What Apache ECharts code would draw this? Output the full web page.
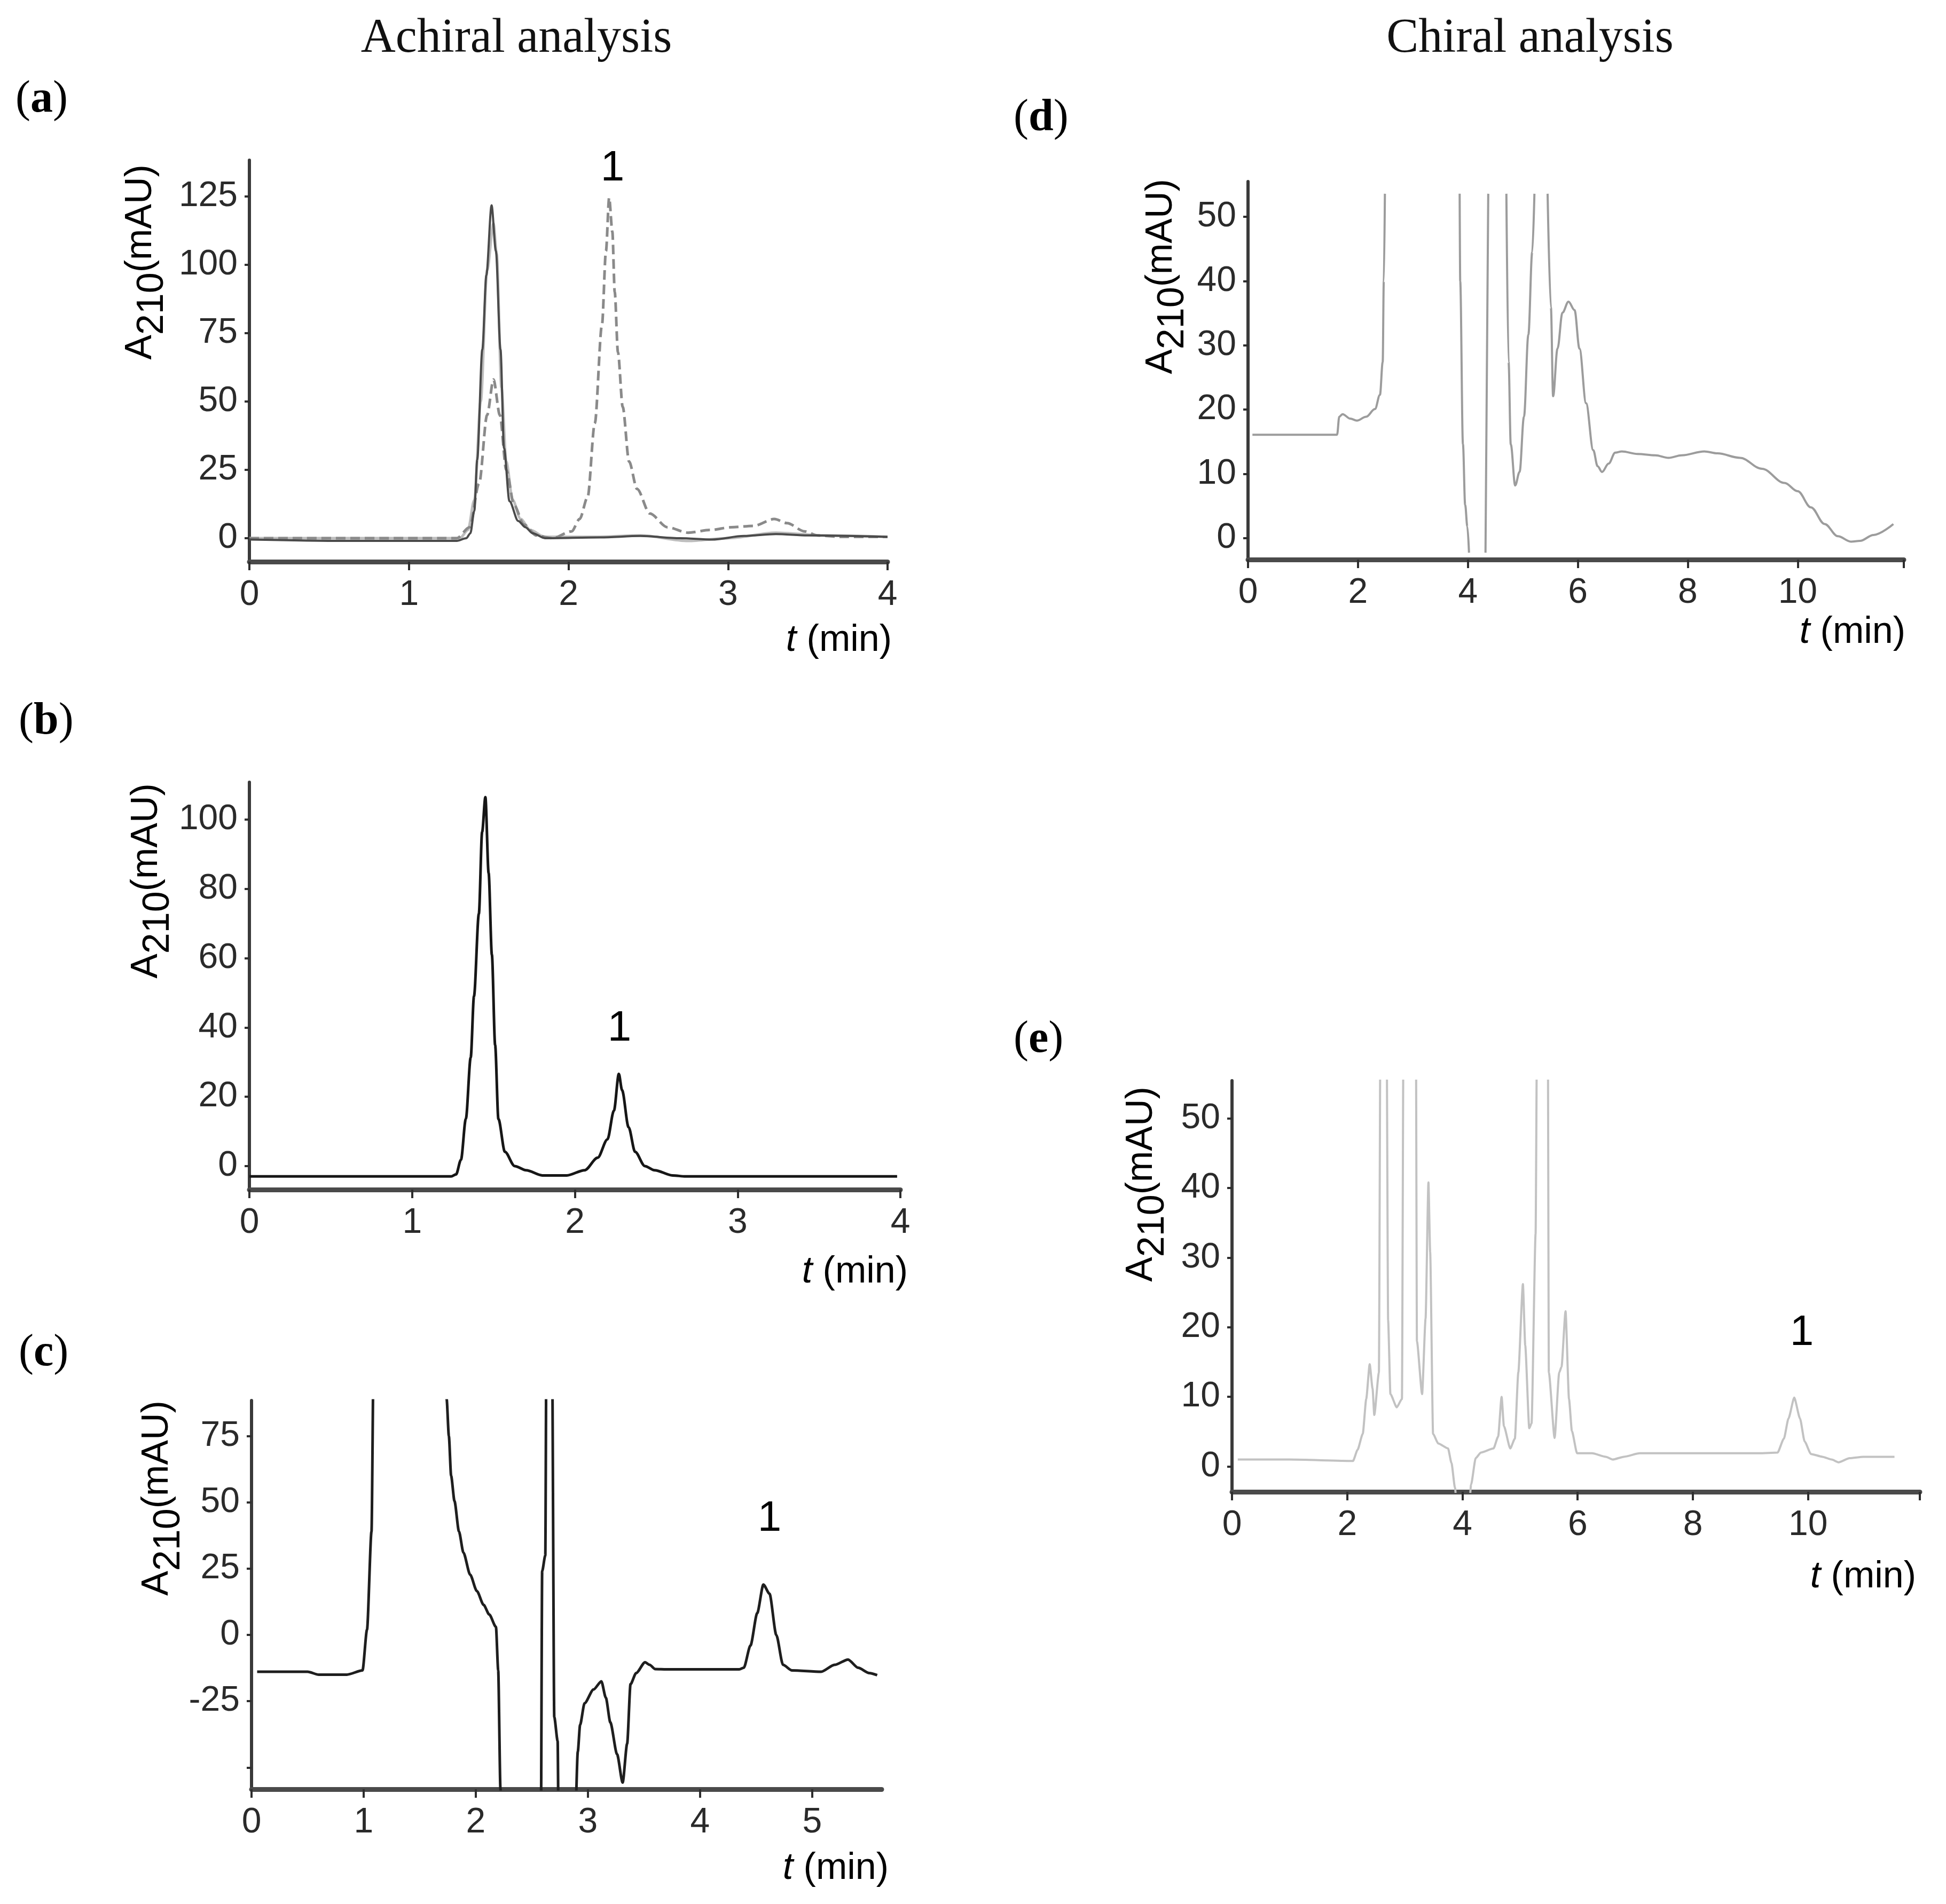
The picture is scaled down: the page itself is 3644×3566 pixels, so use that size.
<!DOCTYPE html>
<html>
<head>
<meta charset="utf-8">
<script src="https://cdn.jsdelivr.net/npm/echarts@6/dist/echarts.min.js"></script>
<style>
html,body{margin:0;padding:0;background:#fff;}
#c{width:3644px;height:3566px;}
</style>
</head>
<body>
<div id="c"></div>
<script>
// ---------- DATA ----------
// Panel (a): achiral, three overlaid traces
const aLightT = [0, 1.0, 1.32, 1.37, 1.41, 1.45, 1.49, 1.53, 1.55, 1.58, 1.61, 1.65, 1.70, 1.76, 1.85, 2.2, 2.45, 2.75, 3.0, 3.3, 3.6, 4.0];
const aLightY = [0, 0, 0, 3, 14, 50, 98, 115, 104, 55, 28, 14, 7, 3, 0.5, 0.5, 1, -1, 0, 2, 1, 0.5];
const aDashT = [0, 1.30, 1.38, 1.44, 1.49, 1.53, 1.57, 1.61, 1.66, 1.72, 1.80, 1.90, 2.02, 2.07, 2.12, 2.165, 2.21, 2.235, 2.255, 2.275, 2.29, 2.31, 2.34, 2.38, 2.43, 2.51, 2.62, 2.75, 2.89, 3.02, 3.16, 3.29, 3.37, 3.48, 3.56, 3.7, 4.0];
const aDashY = [0, 0, 4, 20, 45, 58, 45, 25, 12, 5, 1, 0, 2.5, 7, 15, 42, 78, 105, 124.5, 112, 90, 68, 48, 28, 18, 9, 4, 2, 3, 4, 4.5, 7, 5.5, 2.5, 1, 0.5, 0.5];
const aSolidT = [0, 0.6, 1.0, 1.30, 1.36, 1.385, 1.41, 1.428, 1.46, 1.485, 1.518, 1.545, 1.574, 1.596, 1.63, 1.685, 1.73, 1.775, 1.853, 2.2, 2.45, 2.7, 2.9, 3.1, 3.3, 3.5, 4.0];
const aSolidY = [-0.5, -1, -1, -1, 0, 1.8, 10, 28.7, 69, 96, 121.7, 105, 69, 33, 13.5, 6.3, 4, 1.8, 0, 0.3, 0.8, 0, -0.5, 0.8, 1.5, 1, 0.5];

// Panel (b)
const bT = [0, 1.24, 1.27, 1.30, 1.33, 1.36, 1.38, 1.41, 1.43, 1.45, 1.47, 1.49, 1.51, 1.53, 1.57, 1.63, 1.70, 1.80, 1.95, 2.06, 2.14, 2.20, 2.24, 2.27, 2.29, 2.33, 2.37, 2.43, 2.49, 2.60, 2.68, 3.98];
const bY = [-3.0, -3.0, -2.4, 1.8, 13.6, 31.4, 49, 72.8, 96.4, 106.5, 84.6, 61, 34.9, 13.6, 4.1, 0, -1.2, -2.7, -2.7, -1.2, 2.4, 7.7, 16, 26.6, 21.9, 11.2, 4.1, 0, -1.2, -2.7, -3.0, -3.0];

// Panel (c)
const cT = [0.05, 0.50, 0.60, 0.85, 0.99, 1.03, 1.07, 1.09, 1.72, 1.74, 1.76, 1.78, 1.81, 1.85, 1.89, 1.95, 2.01, 2.07, 2.12, 2.18, 2.20, 2.22, 2.23, 2.58, 2.592, 2.62, 2.63, 2.68, 2.70, 2.73, 2.74, 2.88, 2.91, 2.93, 2.97, 3.05, 3.12, 3.16, 3.20, 3.26, 3.31, 3.35, 3.38, 3.43, 3.51, 3.55, 3.60, 3.70, 4.35, 4.39, 4.45, 4.51, 4.565, 4.62, 4.68, 4.74, 4.82, 5.08, 5.20, 5.32, 5.41, 5.51, 5.58];
const cY = [-13.9, -13.9, -15, -15, -13.4, 2, 39, 110, 110, 89, 75, 60, 50.5, 39, 31, 22.7, 16.5, 11.3, 7.7, 3, -13.4, -58, -80, -80, 24, 30, 110, 110, -31, -40, -80, -80, -44, -34, -25.8, -20.6, -17.5, -23.7, -33, -45, -55.7, -41, -18.6, -14.4, -10.3, -11.3, -12.9, -13, -13, -12.4, -4, 8.2, 19, 15.5, 0, -11.3, -13.4, -13.9, -11.3, -9.3, -12.4, -14.4, -15.2];

// Panel (d)  (null = trace leaves the drawn window)
const dT = [0.08, 1.62, 1.66, 1.72, 1.86, 1.98, 2.15, 2.31, 2.40, 2.45, 2.47, 2.49, 2.50, 3.85, 3.86, 3.91, 3.95, 3.99, 4.02, 4.10, 4.32, 4.37, 4.50, 4.70, 4.74, 4.78, 4.86, 4.94, 5.02, 5.10, 5.17, 5.21, 5.30, 5.45, 5.51, 5.55, 5.63, 5.72, 5.83, 5.94, 6.03, 6.15, 6.28, 6.36, 6.44, 6.56, 6.68, 6.80, 7.09, 7.41, 7.65, 7.89, 8.30, 8.54, 8.95, 9.35, 9.76, 10.0, 10.24, 10.49, 10.73, 10.97, 11.13, 11.38, 11.74];
const dY = [16.1, 16.1, 18.9, 19.3, 18.6, 18.3, 18.9, 20.1, 22.3, 27.4, 40, 53.6, null, 53.6, 40, 14.6, 5.2, 1.8, -2.26, null, -2.26, 53.6, null, 53.6, 27.4, 14.6, 8.2, 10.3, 18.9, 31.7, 44.5, 53.6, null, 53.6, 35.9, 22.1, 29.5, 35.1, 36.8, 35.5, 29.5, 21, 13.7, 11.2, 10.3, 11.6, 13.3, 13.5, 13.1, 12.9, 12.5, 12.9, 13.5, 13.2, 12.5, 10.8, 8.6, 7.3, 4.8, 2.2, 0.3, -0.55, -0.43, 0.5, 2.2];

// Panel (e)
const eT = [0.1, 1.0, 2.10, 2.18, 2.27, 2.33, 2.39, 2.44, 2.47, 2.55, 2.58, 2.68, 2.71, 2.75, 2.86, 2.95, 2.98, 3.19, 3.21, 3.30, 3.36, 3.41, 3.44, 3.49, 3.58, 3.75, 3.81, 3.87, 3.92, 4.10, 4.15, 4.23, 4.32, 4.54, 4.62, 4.68, 4.72, 4.83, 4.91, 4.97, 5.05, 5.09, 5.16, 5.20, 5.27, 5.30, 5.48, 5.50, 5.60, 5.68, 5.72, 5.79, 5.85, 5.90, 5.99, 6.25, 6.49, 6.61, 6.80, 7.08, 8.37, 9.15, 9.47, 9.58, 9.66, 9.76, 9.86, 9.94, 10.05, 10.25, 10.41, 10.53, 10.72, 10.96, 11.5];
const eY = [1.0, 1.0, 0.8, 2.4, 4.7, 9.7, 14.7, 11.2, 7.4, 13.5, 70, 70, 21, 10.4, 8.5, 9.7, 70, 70, 18, 10.4, 21.2, 40.8, 30.8, 4.7, 3.3, 2.6, 0.5, -3.0, -8, -8, -2.6, 1.2, 2.0, 2.6, 4.3, 10, 5.8, 2.6, 4.0, 13.5, 26.2, 17.4, 5.5, 6.2, 33.4, 70, 70, 13.5, 4.1, 13.5, 14.3, 22.3, 9.7, 5.1, 1.9, 1.9, 1.4, 1.0, 1.4, 1.9, 1.9, 1.9, 2.0, 4.0, 6.9, 9.9, 6.9, 3.6, 1.8, 1.4, 1.0, 0.6, 1.2, 1.4, 1.4];

// Tick values
const abXTicks = [0, 1, 2, 3, 4];
const aYTicks = [0, 25, 50, 75, 100, 125];
const bYTicks = [0, 20, 40, 60, 80, 100];
const cXTicks = [0, 1, 2, 3, 4, 5];
const cYTicks = [-50, -25, 0, 25, 50, 75];
const cYLabels = [-25, 0, 25, 50, 75];
const deXLabels = [0, 2, 4, 6, 8, 10];
const deYTicks = [0, 10, 20, 30, 40, 50];

// ---------- HELPERS ----------
function zip(t, y) { return t.map((v, i) => [v, y[i] === null ? null : y[i]]); }
const LBL_FONT = 'Liberation Sans';
const grids = [
  { left: 467, top: 300, width: 1195, height: 752 },   // a
  { left: 467, top: 1465, width: 1219, height: 763 },  // b
  { left: 471, top: 2623, width: 1180, height: 728 },  // c
  { left: 2337, top: 340, width: 1228, height: 708 },  // d
  { left: 2307, top: 2024, width: 1288, height: 770 }  // e
];
function xAx(i, max, ticks, labels) {
  return {
    type: 'value', gridIndex: i, min: 0, max: max,
    splitLine: { show: false },
    axisLine: { show: true, onZero: false, lineStyle: { color: '#4a4a4a', width: 9 } },
    axisTick: { show: true, length: 16, lineStyle: { color: '#2e2e2e', width: 4 }, customValues: ticks },
    axisLabel: { show: true, margin: 30, fontSize: 66, fontFamily: LBL_FONT, color: '#2a2a2a', customValues: labels }
  };
}
function yAx(i, min, max, ticks, labels) {
  return {
    type: 'value', gridIndex: i, min: min, max: max,
    splitLine: { show: false },
    axisLine: { show: true, onZero: false, lineStyle: { color: '#3a3a3a', width: 6 } },
    axisTick: { show: true, length: 9, lineStyle: { color: '#2e2e2e', width: 4 }, customValues: ticks },
    axisLabel: { show: true, margin: 22, fontSize: 66, fontFamily: LBL_FONT, color: '#2a2a2a', customValues: labels }
  };
}
function line(i, data, color, width, type, smooth) {
  return {
    type: 'line', xAxisIndex: i, yAxisIndex: i, data: data,
    showSymbol: false, symbol: 'none', clip: true, silent: true,
    smooth: smooth, smoothMonotone: 'x', connectNulls: false,
    lineStyle: { color: color, width: width, type: type || 'solid' }
  };
}

// text helpers
function yTitle(x, y) {
  const base = { fontSize: 70, fontFamily: LBL_FONT, color: '#333', verticalAlign: 'top', lineHeight: 80 };
  return {
    type: 'text', x: x, y: y, rotation: Math.PI / 2,
    style: {
      text: '{a|A}{s|210}{a|(mAU)}', align: 'center', verticalAlign: 'middle',
      rich: { a: base, s: Object.assign({}, base, { padding: [22, 0, 0, 0] }) }
    }
  };
}
function tTitle(xr, y) {
  return {
    type: 'text', x: xr, y: y,
    style: {
      text: '{i|t}{n| (min)}', align: 'right', verticalAlign: 'middle',
      rich: {
        i: { fontSize: 70, fontFamily: LBL_FONT, fontStyle: 'italic', color: '#333' },
        n: { fontSize: 70, fontFamily: LBL_FONT, color: '#333' }
      }
    }
  };
}
function panelTag(letter, x, y) {
  return {
    type: 'text', x: x, y: y,
    style: {
      text: '{p|(}{b|' + letter + '}{p|)}', align: 'left', verticalAlign: 'middle',
      rich: {
        p: { fontSize: 84, fontFamily: 'Liberation Serif', color: '#111' },
        b: { fontSize: 84, fontFamily: 'Liberation Serif', fontWeight: 'bold', color: '#111' }
      }
    }
  };
}
function peakOne(x, y) {
  return { type: 'text', x: x, y: y, style: { text: '1', fontSize: 80, fontFamily: LBL_FONT, fill: '#000', align: 'center', verticalAlign: 'middle' } };
}
function heading(txt, x, y) {
  return { type: 'text', x: x, y: y, style: { text: txt, fontSize: 90, fontFamily: 'Liberation Serif', fill: '#111', align: 'center', verticalAlign: 'middle' } };
}

const option = {
  animation: false,
  backgroundColor: '#ffffff',
  grid: grids,
  xAxis: [
    xAx(0, 4, abXTicks, abXTicks),
    xAx(1, 4, abXTicks, abXTicks),
    xAx(2, 5.62, cXTicks, cXTicks),
    xAx(3, 11.93, deXLabels.concat([11.93]), deXLabels),
    xAx(4, 11.94, deXLabels.concat([11.94]), deXLabels)
  ],
  yAxis: [
    yAx(0, -8.6, 138.2, aYTicks, aYTicks),
    yAx(1, -6.8, 110.8, bYTicks, bYTicks),
    yAx(2, -58.2, 88.4, cYTicks, cYLabels),
    yAx(3, -3.33, 55.5, deYTicks, deYTicks),
    yAx(4, -3.63, 55.4, deYTicks, deYTicks)
  ],
  series: [
    line(0, zip(aLightT, aLightY), '#bdbdbd', 5, 'solid', 0.3),
    line(0, zip(aDashT, aDashY), '#8a8a8a', 5, [18, 9], 0.3),
    line(0, zip(aSolidT, aSolidY), '#4a4a4a', 4, 'solid', 0.3),
    line(1, zip(bT, bY), '#161616', 5, 'solid', 0.3),
    line(2, zip(cT, cY), '#1e1e1e', 5, 'solid', 0.25),
    line(3, zip(dT, dY), '#9c9c9c', 4, 'solid', 0.35),
    line(4, zip(eT, eY), '#c2c2c2', 4, 'solid', 0.2)
  ],
  graphic: [
    heading('Achiral analysis', 967, 73),
    heading('Chiral analysis', 2865, 73),
    panelTag('a', 29, 187),
    panelTag('b', 35, 1352),
    panelTag('c', 35, 2535),
    panelTag('d', 1898, 222),
    panelTag('e', 1898, 1948),
    yTitle(269, 491),
    yTitle(280, 1650),
    yTitle(300, 2806),
    yTitle(2180, 518),
    yTitle(2143, 2218),
    tTitle(1670, 1200),
    tTitle(1700, 2383),
    tTitle(1664, 3500),
    tTitle(3568, 1185),
    tTitle(3588, 2954),
    peakOne(1147, 316),
    peakOne(1160, 1927),
    peakOne(1441, 2845),
    peakOne(3374, 2497)
  ]
};
const chart = echarts.init(document.getElementById('c'), null, { renderer: 'canvas', width: 3644, height: 3566 });
chart.setOption(option);
</script>
</body>
</html>
